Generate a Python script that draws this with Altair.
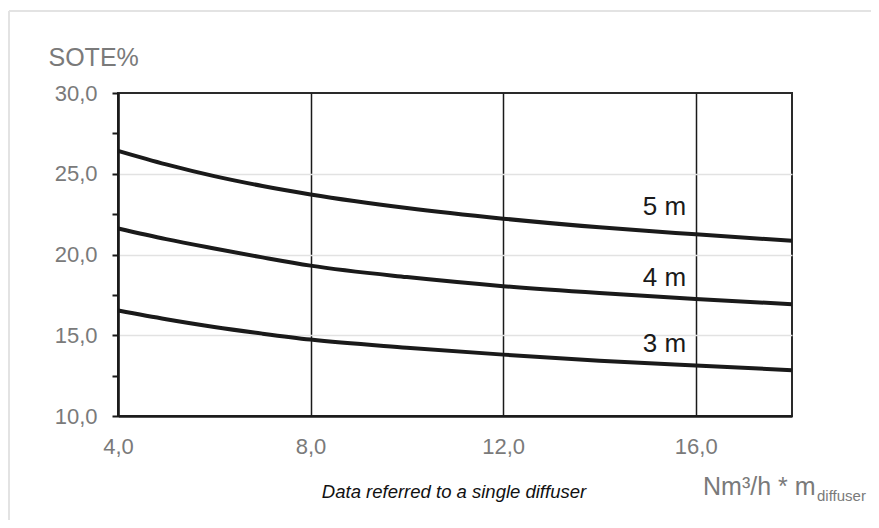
import altair as alt
import pandas as pd

# ---- data ----
flow = [4, 5, 6, 7, 8, 10, 12, 14, 16, 18]
sote_5m = [26.42, 25.58, 24.85, 24.24, 23.72, 22.88, 22.22, 21.68, 21.25, 20.85]
sote_4m = [21.61, 20.95, 20.37, 19.82, 19.31, 18.60, 18.04, 17.61, 17.25, 16.92]
sote_3m = [16.53, 15.99, 15.51, 15.10, 14.73, 14.23, 13.80, 13.42, 13.12, 12.84]
depths = ["5 m", "4 m", "3 m"]
label_x = [15.8, 15.8, 15.8]
label_y = [22.45, 18.05, 13.95]
x_ticks = [4, 8, 12, 16]
y_ticks = [10, 12.5, 15, 17.5, 20, 22.5, 25, 27.5, 30]

rows = []
for d, vals in zip(depths, [sote_5m, sote_4m, sote_3m]):
    for f, v in zip(flow, vals):
        rows.append({"depth": d, "flow": f, "sote": v})
df = pd.DataFrame(rows)
labels_df = pd.DataFrame({"depth": depths, "flow": label_x, "sote": label_y})
one = pd.DataFrame({"k": [0]})

FONT = "Liberation Sans"
GREY = "#7a7a7a"
INK = "#1a1a1a"

x_scale = alt.Scale(domain=[4, 18], nice=False, zero=False)
y_scale = alt.Scale(domain=[10, 30], nice=False, zero=False)

x_axis = alt.Axis(
    values=x_ticks,
    labelExpr="replace(format(datum.value, '.1f'), '.', ',')",
    ticks=False, tickSize=0, labelPadding=20, labelFontSize=22,
    labelColor=GREY, labelFont=FONT, labelFlush=False, labelOverlap=False,
    grid=True, gridColor=INK, gridWidth=1.5,
    domainColor=INK, domainWidth=2.5, title=None,
)
y_axis = alt.Axis(
    values=y_ticks,
    labelExpr="datum.value % 5 === 0 ? replace(format(datum.value, '.1f'), '.', ',') : ''",
    tickSize=6, tickWidth=2, tickColor=INK, labelPadding=15, labelFontSize=22,
    labelColor=GREY, labelFont=FONT, labelBaseline="middle", labelOverlap=False,
    labelFlush=False,
    grid=True, gridColor="#e2e2e2", gridWidth=1.5,
    gridOpacity={"condition": {"test": "datum.value % 5 === 0 && datum.value > 10 && datum.value < 30", "value": 1}, "value": 0},
    domainColor=INK, domainWidth=2.5,
    title="SOTE%", titleAngle=0, titleAlign="left", titleBaseline="alphabetic",
    titleX=-70, titleY=-28, titleFontSize=25, titleFontWeight="normal",
    titleColor=GREY, titleFont=FONT,
)

lines = alt.Chart(df).mark_line(color=INK, strokeWidth=4, interpolate="monotone").encode(
    x=alt.X("flow:Q", scale=x_scale, axis=x_axis),
    y=alt.Y("sote:Q", scale=y_scale, axis=y_axis),
    detail="depth:N",
)

curve_labels = alt.Chart(labels_df).mark_text(
    align="right", baseline="alphabetic", font=FONT, fontSize=26, color=INK
).encode(
    x=alt.X("flow:Q", scale=x_scale),
    y=alt.Y("sote:Q", scale=y_scale),
    text="depth:N",
)

note = alt.Chart(one).mark_text(
    text="Data referred to a single diffuser", align="center", baseline="alphabetic",
    font=FONT, fontSize=18.5, fontStyle="italic", color="#111111"
).encode(x=alt.value(336), y=alt.value(405))

unit_main = alt.Chart(one).mark_text(
    text="Nm³/h * m", align="left", baseline="alphabetic",
    font=FONT, fontSize=25, color=GREY
).encode(x=alt.value(585), y=alt.value(402))

unit_sub = alt.Chart(one).mark_text(
    text="diffuser", align="left", baseline="alphabetic",
    font=FONT, fontSize=15, color=GREY
).encode(x=alt.value(699), y=alt.value(408))

frame_top = alt.Chart(one).mark_rule(color="#e3e3e3", strokeWidth=2).encode(
    x=alt.value(-109), x2=alt.value(760), y=alt.value(-82)
)
frame_left = alt.Chart(one).mark_rule(color="#e3e3e3", strokeWidth=2).encode(
    x=alt.value(-109), y=alt.value(-82), y2=alt.value(430)
)

chart = alt.layer(
    lines, curve_labels, note, unit_main, unit_sub, frame_top, frame_left
).properties(
    width=674, height=323,
    autosize="none",
    padding={"left": 110, "top": 85, "right": 79, "bottom": 104},
).configure_view(stroke="#2a2a2a", strokeWidth=2)

chart.save("out.html", embed_options={"renderer": "svg", "actions": False})
